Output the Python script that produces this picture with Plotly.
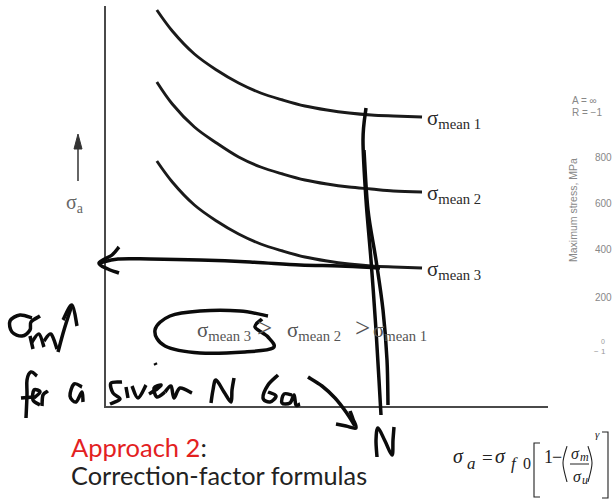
import plotly.graph_objects as go

W, H = 612, 499

# S-N curves: life N (axis units) against stress amplitude for three mean stresses
n_cycles = [1.15, 1.5, 2.0, 2.5, 3.0, 3.5, 4.0, 4.5, 5.0, 5.5, 6.0, 6.5, 7.15]
sa_mean1 = [9.9, 9.375, 8.8, 8.4, 8.075, 7.825, 7.65, 7.5, 7.4, 7.325, 7.275, 7.25, 7.225]
sa_mean2 = [8.1, 7.55, 6.975, 6.575, 6.225, 5.975, 5.8, 5.65, 5.55, 5.475, 5.425, 5.375, 5.35]
sa_mean3 = [6.125, 5.6, 5.025, 4.625, 4.3, 4.05, 3.875, 3.725, 3.625, 3.55, 3.5, 3.475, 3.45]
curve_labels = ["mean 1", "mean 2", "mean 3"]

# fragment of a neighbouring plot cut off at the right edge
side_ticks = ["800", "600", "400", "200"]

INK = "#0b0b0b"
SERIF = "Liberation Serif"
SANS = "Lato"


def px(x, y):
    return x / W, 1 - y / H


def smooth_path(pts):
    p = [px(*q) for q in pts]
    d = f"M{p[0][0]:.5f},{p[0][1]:.5f}"
    for i in range(len(p) - 1):
        p0 = p[i - 1] if i > 0 else p[i]
        p1, p2 = p[i], p[i + 1]
        p3 = p[i + 2] if i + 2 < len(p) else p2
        c1 = (p1[0] + (p2[0] - p0[0]) / 6, p1[1] + (p2[1] - p0[1]) / 6)
        c2 = (p2[0] - (p3[0] - p1[0]) / 6, p2[1] - (p3[1] - p1[1]) / 6)
        d += (f" C{c1[0]:.5f},{c1[1]:.5f} {c2[0]:.5f},{c2[1]:.5f}"
              f" {p2[0]:.5f},{p2[1]:.5f}")
    return d


fig = go.Figure()
for sa in (sa_mean1, sa_mean2, sa_mean3):
    fig.add_trace(go.Scatter(x=n_cycles, y=sa, mode="lines",
                             line=dict(color="#1a1a1a", width=2.9, shape="spline"),
                             hoverinfo="skip"))

annotations = []
for sa, lab in zip((sa_mean1, sa_mean2, sa_mean3), curve_labels):
    annotations.append(dict(x=n_cycles[-1], y=sa[-1], xref="x", yref="y",
                            xanchor="left", yanchor="middle", xshift=3, yshift=-2,
                            text=f"σ<sub>{lab}</sub>", showarrow=False,
                            font=dict(family=SERIF, size=21, color="#2a2a2a")))


def txt(x, y, text, size, color="#222", family=SERIF, anchor="left", **kw):
    xx, yy = px(x, y)
    d = dict(x=xx, y=yy, xref="paper", yref="paper", xanchor=anchor,
             yanchor="middle", text=text, showarrow=False, borderpad=0,
             font=dict(family=family, size=size, color=color))
    d.update(kw)
    annotations.append(d)


# axis title
txt(65, 203, "σ<sub>a</sub>", 20, color="#666")

# ordering of the mean stresses
txt(196, 331, "σ<sub>mean 3</sub>", 21, color="#555")
txt(256, 328, ">", 27, color="#555")
txt(286, 331, "σ<sub>mean 2</sub>", 21, color="#555")
txt(354, 328, ">", 27, color="#555")
txt(372, 331, "σ<sub>mean 1</sub>", 21, color="#555")

# slide text
txt(70, 447, "<span style='color:#e3211f'>Approach 2</span>:", 25.5,
    color="#222", family=SANS)
txt(70, 475, "Correction-factor formulas", 25.3, color="#222", family=SANS)

# correction-factor formula, set piece by piece
txt(452, 456, "<i>σ</i>", 20)
txt(466, 463, "<i>a</i>", 17)
txt(481, 457, "=", 19)
txt(494, 456, "<i>σ</i>", 20)
txt(510, 463, "<i>f</i>", 17)
txt(522, 463, "0", 16)
txt(543, 457, "1", 18)
txt(551, 457, "−", 18)
txt(570, 453, "<i>σ</i>", 16)
txt(579, 457, "<i>m</i>", 12)
txt(572, 476, "<i>σ</i>", 16)
txt(581, 480, "<i>u</i>", 12)
txt(594, 434, "<i>γ</i>", 11)

# right-hand fragment
txt(571, 101, "A = ∞", 10, color="#888", family="Liberation Sans")
txt(571, 112, "R = −1", 10, color="#888", family="Liberation Sans")
txt(573, 210, "Maximum stress, MPa", 10.5, color="#888", family="Liberation Sans",
    anchor="center", textangle=-90)
for lab, yy in zip(side_ticks, [157, 204, 250, 297]):
    txt(594, yy, lab, 10, color="#888", family="Liberation Sans")
txt(600, 341, "0", 7, color="#999", family="Liberation Sans")
txt(593, 351, "− 1", 8, color="#999", family="Liberation Sans")

shapes = []


def line_shape(pts, color="#222", width=1.2):
    shapes.append(dict(type="path", path=smooth_path(pts), xref="paper",
                       yref="paper", line=dict(color=color, width=width),
                       layer="above"))


def poly(pts, color="#222", width=1.2, fill=None):
    p = [px(*q) for q in pts]
    d = "M" + " L".join(f"{a:.5f},{b:.5f}" for a, b in p)
    s = dict(type="path", path=d + (" Z" if fill else ""), xref="paper",
             yref="paper", line=dict(color=color, width=width), layer="above")
    if fill:
        s["fillcolor"] = fill
    shapes.append(s)


# arrow above the stress-amplitude title
poly([(78, 181), (78, 146)], color="#333", width=1.5)
poly([(74, 149), (78, 134), (82, 149)], color="#333", width=1, fill="#333")

# brackets, parentheses, fraction bar of the formula
poly([(540, 443), (534, 443), (534, 497), (540, 497)], width=1.1)
poly([(602, 432), (608, 432), (608, 498), (602, 498)], width=1.1)
line_shape([(567, 446), (563, 463), (567, 482)], width=1.1)
line_shape([(588, 446), (592, 463), (588, 482)], width=1.1)
poly([(570, 464), (589, 464)], width=1.0)

# hand-written annotations
strokes = [
    # horizontal arrow to the stress axis
    [(380, 268), (340, 266), (300, 265), (250, 262), (200, 260), (150, 259), (118, 259), (100, 263)],
    [(119, 247), (112, 255), (99, 263), (108, 269), (119, 273)],
    # double vertical stroke at the chosen N
    [(366, 108), (363, 140), (366, 200), (371, 260), (376, 330), (379, 380), (381, 415)],
    [(364, 150), (368, 210), (376, 260), (383, 310), (387, 360), (388, 405)],
    # N
    [(377, 457), (376, 440), (378, 428), (385, 441), (392, 455), (393, 440), (394, 427)],
    # arrow towards N
    [(308, 377), (322, 386), (335, 398), (346, 412), (355, 426)],
    [(336, 424), (346, 426), (356, 428), (353, 419), (350, 411)],
    # loop around sigma mean 3
    [(268, 316), (240, 311), (200, 311), (170, 316), (155, 330), (165, 346), (200, 353), (245, 352), (273, 348), (268, 337), (255, 327), (262, 319)],
    # sigma_m with arrow
    [(32, 318), (20, 315), (10, 321), (12, 332), (22, 336), (30, 330), (31, 322), (40, 316)],
    [(30, 336), (33, 349)],
    [(32, 342), (39, 334), (44, 347)],
    [(44, 341), (51, 334), (57, 349)],
    [(58, 352), (64, 330), (72, 305)],
    [(63, 320), (72, 305), (77, 326)],
    # "for a"
    [(37, 376), (31, 372), (27, 380), (27, 395), (26, 418)],
    [(21, 398), (34, 397)],
    [(34, 398), (40, 392), (34, 390), (33, 400), (40, 405)],
    [(42, 406), (43, 395), (48, 391)],
    [(82, 387), (74, 384), (70, 396), (76, 402), (82, 392), (83, 402)],
    # "siven"
    [(122, 382), (111, 383), (113, 393), (120, 399), (110, 404)],
    [(126, 387), (128, 398)],
    [(132, 386), (138, 398), (146, 385)],
    [(155, 363), (156, 365)],
    [(149, 394), (157, 389), (161, 385), (154, 388), (157, 397), (165, 392)],
    [(165, 392), (171, 386), (174, 398), (180, 388), (192, 393)],
    # "N"
    [(211, 403), (213, 390), (216, 380), (224, 392), (231, 402), (232, 390), (234, 378)],
    # "sigma_a"
    [(278, 375), (268, 385), (263, 398), (270, 402), (276, 396), (268, 392)],
    [(292, 395), (284, 394), (282, 403), (290, 403), (294, 395), (296, 405), (300, 404)],
]
for s in strokes:
    line_shape(s, color=INK, width=3.5)

fig.update_layout(
    width=W, height=H, margin=dict(l=0, r=0, t=0, b=0),
    paper_bgcolor="white", plot_bgcolor="white", showlegend=False,
    xaxis=dict(domain=[106 / W, 548 / W], range=[0, 10], showline=True,
               linecolor="#4a4a4a", linewidth=1.6, showgrid=False,
               zeroline=False, showticklabels=False, ticks=""),
    yaxis=dict(domain=[1 - 406 / H, 1 - 6 / H], range=[0, 10], showline=True,
               linecolor="#4a4a4a", linewidth=1.6, showgrid=False,
               zeroline=False, showticklabels=False, ticks=""),
    annotations=annotations, shapes=shapes,
)
fig.write_html("out.html")
